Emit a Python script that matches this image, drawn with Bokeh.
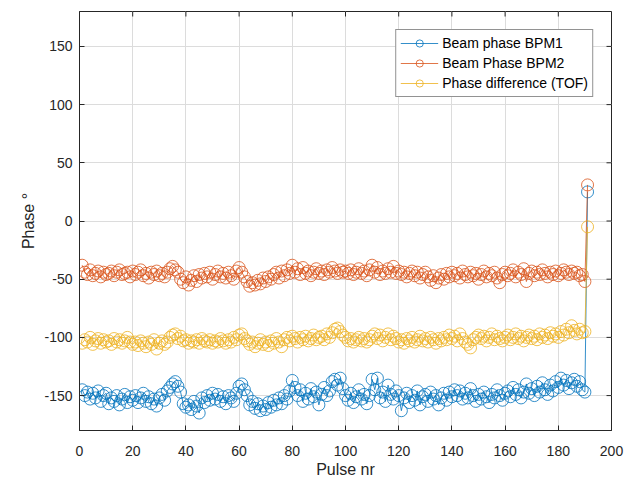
from bokeh.plotting import figure
from bokeh.models import FixedTicker, Range1d, Legend, LegendItem
from bokeh.embed import file_html
from bokeh.resources import INLINE

pulse = list(range(1, 192))

bpm1 = [
    -145, -150, -147, -153, -148, -152, -146, -155, -150, -148,
    -157, -152, -155, -150, -158, -153, -149, -156, -151, -154,
    -150, -156, -152, -148, -155, -151, -157, -153, -159, -152,
    -149, -154, -146, -143, -140, -138, -142, -147, -157, -160,
    -158, -162, -155, -159, -165, -152, -156, -150, -154, -148,
    -153, -149, -155, -151, -157, -150, -152, -155, -148, -142,
    -140, -145, -150, -158, -155, -161, -157, -163, -159, -162,
    -156, -160, -154, -158, -152, -157, -150, -153, -146, -137,
    -143, -150, -145, -155, -148, -153, -144, -151, -147, -158,
    -149, -143, -150, -146, -138, -136, -141, -135, -144, -150,
    -154, -148, -156, -151, -145, -153, -149, -157, -150, -136,
    -145, -135, -152, -147, -155, -141, -149, -153, -146, -150,
    -163, -152, -148, -156, -150, -154, -146, -158, -151, -149,
    -155, -147, -153, -150, -158, -152, -148, -154, -147, -151,
    -145, -150, -146, -153, -148, -152, -144, -150, -155, -149,
    -153, -147, -151, -156, -149, -152, -145, -150, -154, -148,
    -146, -151, -143, -149, -145, -152, -147, -140, -148, -144,
    -150, -142, -147, -139, -145, -149, -141, -146, -138, -143,
    -135, -141, -137, -144, -139, -136, -142, -138, -145, -147,
    25,
]

bpm2 = [
    -38, -44, -46, -42, -47, -45, -43, -48, -44, -46,
    -45, -43, -47, -44, -42, -46, -45, -44, -48, -43,
    -46, -44, -42, -47, -45, -49, -44, -46, -43, -47,
    -45, -48, -44, -41, -39, -42, -44, -50, -53, -48,
    -55, -51, -47, -52, -46, -49, -45, -48, -44, -50,
    -46, -43, -48, -45, -49, -44, -47, -50, -43, -40,
    -44, -48, -52, -56, -53, -55, -51, -54, -49, -52,
    -48, -50, -46, -44, -49, -43, -47, -42, -45, -38,
    -44, -41, -46, -40, -45, -43, -47, -44, -41, -45,
    -43, -46, -42, -44, -40, -43, -45, -42, -44, -43,
    -45, -42, -46, -44, -41, -45, -43, -47, -42, -38,
    -44, -40, -46, -43, -45, -41, -44, -39, -45, -43,
    -46, -44, -48, -45, -43, -47, -44, -49, -46, -44,
    -48, -51, -47, -53, -49, -46, -50, -45, -48, -44,
    -47, -45, -49, -43, -46, -48, -44, -47, -45, -50,
    -46, -43, -48, -45, -47, -44, -49, -53, -46, -44,
    -47, -45, -42, -48, -44, -46, -41, -52, -45, -43,
    -47, -44, -46, -42, -45, -48, -44, -46, -43, -47,
    -45, -42, -44, -46, -43, -45, -44, -47, -46, -52,
    31,
]

tof = [
    -105, -102, -104, -100, -106, -103, -101, -105, -102, -104,
    -103, -106, -101, -104, -102, -105, -103, -100, -104, -106,
    -104, -107, -103, -105, -108, -104, -106, -102, -110, -105,
    -103, -106, -104, -100, -98, -97, -101, -99, -103, -102,
    -105, -103, -104, -102, -105, -101, -103, -104, -102, -105,
    -103, -104, -101, -103, -105, -102, -104, -100, -102, -98,
    -97, -101, -103, -106, -104, -108, -105, -102, -106, -104,
    -107, -103, -105, -101, -104, -108, -102, -100, -103, -99,
    -101, -104, -100, -102, -99, -103, -101, -98, -102, -100,
    -99, -102, -97, -100, -96, -93, -92, -95, -98, -100,
    -103, -101, -104, -102, -100, -103, -101, -104, -102, -99,
    -97, -101, -98, -103, -100, -97, -102, -99, -101, -104,
    -102, -105, -101, -103, -100, -104, -102, -99, -103, -101,
    -104, -100, -102, -105, -101, -103, -100, -102, -98, -101,
    -99, -103, -97, -101, -104, -106, -109, -102, -100, -98,
    -101, -99, -103, -100, -97, -102, -99, -101, -103, -100,
    -98, -102, -100, -97, -101, -99, -103, -100, -98, -101,
    -99, -102, -97, -100, -98, -101, -96, -99, -97, -100,
    -95, -98, -93, -96, -90, -94, -97, -93, -96, -95,
    -5,
]

series_names = ["Beam phase BPM1", "Beam Phase BPM2", "Phase difference (TOF)"]
series_colors = ["#0072BD", "#D95319", "#EDB120"]
x_ticks = list(range(0, 201, 20))
y_ticks = list(range(-150, 151, 50))
x_lim = (0, 200)
y_lim = (-180, 180)

FONT = "Liberation Sans"
AX = "#262626"

p = figure(width=640, height=482, output_backend="svg", toolbar_location=None,
           x_range=Range1d(*x_lim), y_range=Range1d(*y_lim),
           min_border_left=79, min_border_right=29, min_border_top=11,
           min_border_bottom=52, x_axis_label="Pulse nr", y_axis_label="Phase °")
p.background_fill_color = "white"
p.border_fill_color = "white"
p.outline_line_color = AX
p.outline_line_width = 1

p.grid.grid_line_color = "#dcdcdc"
p.grid.grid_line_width = 1
for g in p.xgrid:
    g.ticker = FixedTicker(ticks=x_ticks)
for g in p.ygrid:
    g.ticker = FixedTicker(ticks=y_ticks)

# tick marks on the top and right edges of the box (MATLAB style)
tx = (x_lim[1] - x_lim[0]) * 5 / 532
ty = (y_lim[1] - y_lim[0]) * 5 / 419
p.segment(x0=x_ticks, y0=[y_lim[1]] * len(x_ticks), x1=x_ticks,
          y1=[y_lim[1] - ty] * len(x_ticks), line_color=AX, line_width=1)
p.segment(x0=[x_lim[1]] * len(y_ticks), y0=y_ticks, x1=[x_lim[1] - tx] * len(y_ticks),
          y1=y_ticks, line_color=AX, line_width=1)

items = []
for ys, name, col in zip([bpm1, bpm2, tof], series_names, series_colors):
    r1 = p.line(pulse, ys, line_color=col, line_width=0.8)
    r2 = p.scatter(pulse, ys, marker="circle", size=12, fill_color=None,
                   line_color=col, line_width=0.8)
    items.append(LegendItem(label=name, renderers=[r1, r2]))

for ax in p.xaxis:
    ax.ticker = FixedTicker(ticks=x_ticks)
    ax.major_label_overrides = {t: str(t) for t in x_ticks}
for ax in p.yaxis:
    ax.ticker = FixedTicker(ticks=y_ticks)
    ax.major_label_overrides = {t: str(t) for t in y_ticks}

for ax in p.xaxis + p.yaxis:
    ax.major_tick_in = 5
    ax.major_tick_out = 0
    ax.minor_tick_in = 0
    ax.minor_tick_out = 0
    ax.axis_line_color = AX
    ax.major_tick_line_color = AX
    ax.major_label_text_font = FONT
    ax.major_label_text_font_size = "14px"
    ax.major_label_text_color = AX
    ax.axis_label_text_font = FONT
    ax.axis_label_text_font_size = "16px"
    ax.axis_label_text_font_style = "normal"
    ax.axis_label_text_color = AX
p.xaxis.major_label_standoff = 15
p.xaxis.axis_label_standoff = 2
p.yaxis.major_label_standoff = 7
p.yaxis.axis_label_standoff = 4

legend = Legend(items=items, location="top_right")
legend.margin = 18
legend.border_line_color = AX
legend.border_line_width = 1
legend.background_fill_color = "white"
legend.background_fill_alpha = 1
legend.label_text_font = FONT
legend.label_text_font_size = "14px"
legend.label_text_color = "black"
legend.glyph_width = 38
legend.glyph_height = 18
legend.label_standoff = 4
legend.spacing = 2
legend.padding = 4
legend.label_height = 18
p.add_layout(legend)

open("out.html", "w").write(file_html(p, INLINE))
